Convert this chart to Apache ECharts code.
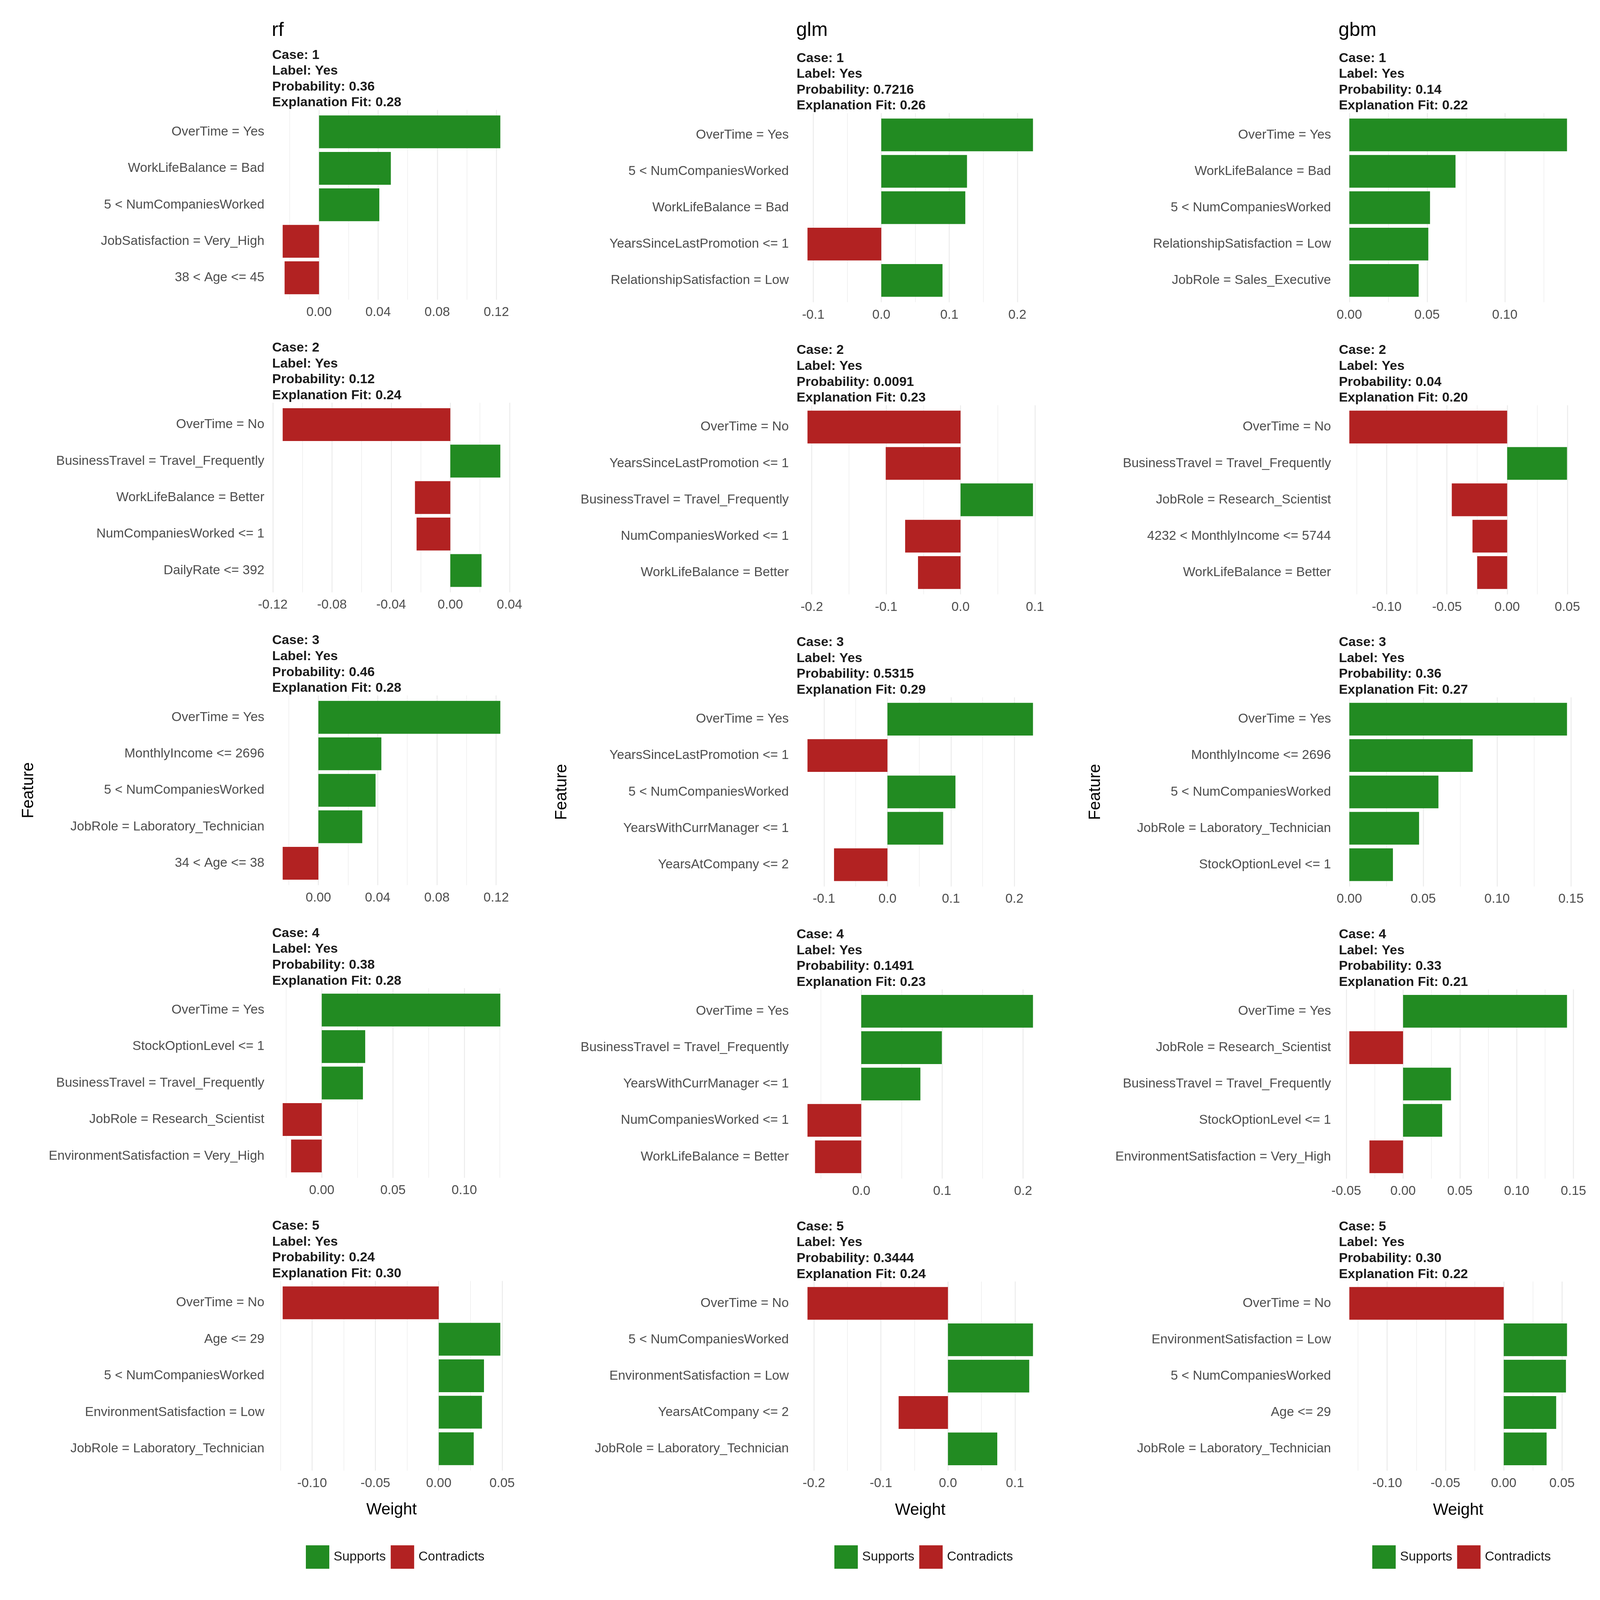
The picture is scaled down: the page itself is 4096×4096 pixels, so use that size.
<!DOCTYPE html>
<html>
<head>
<meta charset="utf-8">
<script src="https://cdn.jsdelivr.net/npm/echarts@6/dist/echarts.min.js"></script>
<style>html,body{margin:0;padding:0;background:#ffffff}#chart{width:4096px;height:4096px}</style>
</head>
<body>
<div id="chart"></div>
<script>
// ---------------- data ----------------
const models = ['rf', 'glm', 'gbm'];
const caseIds = ['1', '2', '3', '4', '5'];
const caseLabels = ['Yes', 'Yes', 'Yes', 'Yes', 'Yes'];

const rfProbability = ['0.36', '0.12', '0.46', '0.38', '0.24'];
const rfFit = ['0.28', '0.24', '0.28', '0.28', '0.30'];
const rfFeatures = [
  ['OverTime = Yes', 'WorkLifeBalance = Bad', '5 < NumCompaniesWorked', 'JobSatisfaction = Very_High', '38 < Age <= 45'],
  ['OverTime = No', 'BusinessTravel = Travel_Frequently', 'WorkLifeBalance = Better', 'NumCompaniesWorked <= 1', 'DailyRate <= 392'],
  ['OverTime = Yes', 'MonthlyIncome <= 2696', '5 < NumCompaniesWorked', 'JobRole = Laboratory_Technician', '34 < Age <= 38'],
  ['OverTime = Yes', 'StockOptionLevel <= 1', 'BusinessTravel = Travel_Frequently', 'JobRole = Research_Scientist', 'EnvironmentSatisfaction = Very_High'],
  ['OverTime = No', 'Age <= 29', '5 < NumCompaniesWorked', 'EnvironmentSatisfaction = Low', 'JobRole = Laboratory_Technician']
];
const rfWeights = [
  [0.1227, 0.0486, 0.0408, -0.0246, -0.0233],
  [-0.1133, 0.0338, -0.0239, -0.0228, 0.0211],
  [0.1228, 0.0425, 0.0386, 0.0296, -0.0241],
  [0.1253, 0.0305, 0.0289, -0.0274, -0.0215],
  [-0.1232, 0.0486, 0.0357, 0.0341, 0.0276]
];
const rfTickStep = [0.04, 0.04, 0.04, 0.05, 0.05];
const rfTickDecimals = 2;

const glmProbability = ['0.7216', '0.0091', '0.5315', '0.1491', '0.3444'];
const glmFit = ['0.26', '0.23', '0.29', '0.23', '0.24'];
const glmFeatures = [
  ['OverTime = Yes', '5 < NumCompaniesWorked', 'WorkLifeBalance = Bad', 'YearsSinceLastPromotion <= 1', 'RelationshipSatisfaction = Low'],
  ['OverTime = No', 'YearsSinceLastPromotion <= 1', 'BusinessTravel = Travel_Frequently', 'NumCompaniesWorked <= 1', 'WorkLifeBalance = Better'],
  ['OverTime = Yes', 'YearsSinceLastPromotion <= 1', '5 < NumCompaniesWorked', 'YearsWithCurrManager <= 1', 'YearsAtCompany <= 2'],
  ['OverTime = Yes', 'BusinessTravel = Travel_Frequently', 'YearsWithCurrManager <= 1', 'NumCompaniesWorked <= 1', 'WorkLifeBalance = Better'],
  ['OverTime = No', '5 < NumCompaniesWorked', 'EnvironmentSatisfaction = Low', 'YearsAtCompany <= 2', 'JobRole = Laboratory_Technician']
];
const glmWeights = [
  [0.2230, 0.1260, 0.1235, -0.1085, 0.0900],
  [-0.2058, -0.1006, 0.0974, -0.0745, -0.0572],
  [0.2292, -0.1259, 0.1071, 0.0878, -0.0841],
  [0.2122, 0.0996, 0.0731, -0.0664, -0.0571],
  [-0.2096, 0.1269, 0.1213, -0.0736, 0.0736]
];
const glmTickStep = [0.1, 0.1, 0.1, 0.1, 0.1];
const glmTickDecimals = 1;

const gbmProbability = ['0.14', '0.04', '0.36', '0.33', '0.30'];
const gbmFit = ['0.22', '0.20', '0.27', '0.21', '0.22'];
const gbmFeatures = [
  ['OverTime = Yes', 'WorkLifeBalance = Bad', '5 < NumCompaniesWorked', 'RelationshipSatisfaction = Low', 'JobRole = Sales_Executive'],
  ['OverTime = No', 'BusinessTravel = Travel_Frequently', 'JobRole = Research_Scientist', '4232 < MonthlyIncome <= 5744', 'WorkLifeBalance = Better'],
  ['OverTime = Yes', 'MonthlyIncome <= 2696', '5 < NumCompaniesWorked', 'JobRole = Laboratory_Technician', 'StockOptionLevel <= 1'],
  ['OverTime = Yes', 'JobRole = Research_Scientist', 'BusinessTravel = Travel_Frequently', 'StockOptionLevel <= 1', 'EnvironmentSatisfaction = Very_High'],
  ['OverTime = No', 'EnvironmentSatisfaction = Low', '5 < NumCompaniesWorked', 'Age <= 29', 'JobRole = Laboratory_Technician']
];
const gbmWeights = [
  [0.1400, 0.0683, 0.0519, 0.0508, 0.0446],
  [-0.1311, 0.0497, -0.0460, -0.0288, -0.0249],
  [0.1473, 0.0835, 0.0603, 0.0472, 0.0295],
  [0.1443, -0.0473, 0.0422, 0.0344, -0.0296],
  [-0.1325, 0.0543, 0.0534, 0.0450, 0.0368]
];
const gbmTickStep = [0.05, 0.05, 0.05, 0.05, 0.05];
const gbmTickDecimals = 2;

const legendNames = ['Supports', 'Contradicts'];

// ---------------- styles / layout ----------------
const FONT = '"Liberation Sans", Arial, Helvetica, sans-serif';
const GREEN = '#228B22';
const RED = '#B22222';
const GRID_COLOR = '#EBEBEB';

const columns = [
  { name: models[0], features: rfFeatures, weights: rfWeights, prob: rfProbability, fit: rfFit, step: rfTickStep, dec: rfTickDecimals,
    left: 695.8, width: 612.9, top1: 290.9, pitch: 749.4, catH: 466.9, featureX: 73.7, legendLeft: 783 },
  { name: models[1], features: glmFeatures, weights: glmWeights, prob: glmProbability, fit: glmFit, step: glmTickStep, dec: glmTickDecimals,
    left: 2038.3, width: 635.0, top1: 298.9, pitch: 747.8, catH: 465.6, featureX: 1439.0, legendLeft: 2136 },
  { name: models[2], features: gbmFeatures, weights: gbmWeights, prob: gbmProbability, fit: gbmFit, step: gbmTickStep, dec: gbmTickDecimals,
    left: 3426.4, width: 613.0, top1: 298.9, pitch: 747.8, catH: 465.6, featureX: 2804.4, legendLeft: 3513 }
];

const grids = [], xAxes = [], yAxes = [], series = [], graphics = [], legends = [];
let gi = 0;
columns.forEach(function (col) {
  graphics.push({
    type: 'text', x: col.left, y: 78,
    style: { text: col.name, fontSize: 50, fontFamily: FONT, fill: '#000000', align: 'left', verticalAlign: 'middle' },
    silent: true
  });
  for (let r = 0; r < 5; r++) {
    const top = col.top1 + r * col.pitch;
    const unit = col.catH / 5;
    const w = col.weights[r];
    const lo = Math.min(0, Math.min.apply(null, w));
    const hi = Math.max(0, Math.max.apply(null, w));
    const span = hi - lo;
    const xmin = lo - 0.05 * span, xmax = hi + 0.05 * span;
    const step = col.step[r];
    const dec = col.dec;

    // background panel grid (full ggplot panel height) carrying the grid lines
    grids.push({ left: col.left, top: top - 0.1 * unit, width: col.width, height: col.catH + 0.2 * unit, containLabel: false, outerBoundsMode: 'none' });
    xAxes.push({
      type: 'value', gridIndex: gi, min: xmin, max: xmax, minInterval: step, maxInterval: step, splitNumber: 4,
      axisLine: { show: false }, axisTick: { show: false }, axisLabel: { show: false },
      splitLine: { show: true, showMinLine: false, showMaxLine: false, lineStyle: { color: GRID_COLOR, width: 2.4 } },
      minorTick: { show: false, splitNumber: 2 },
      minorSplitLine: { show: true, lineStyle: { color: GRID_COLOR, width: 1.3 } }
    });
    yAxes.push({ type: 'value', gridIndex: gi, min: 0, max: 1, show: false });
    gi++;

    // bar panel
    grids.push({ left: col.left, top: top, width: col.width, height: col.catH, containLabel: false, outerBoundsMode: 'none' });
    xAxes.push({
      type: 'value', gridIndex: gi, min: xmin, max: xmax, minInterval: step, maxInterval: step, splitNumber: 4,
      axisLine: { show: false }, axisTick: { show: false },
      axisLabel: {
        show: true, margin: 25.5, fontSize: 33.4, fontFamily: FONT, color: '#4D4D4D',
        showMinLabel: false, showMaxLabel: false,
        formatter: function (v) { return (Math.abs(v) < 1e-9 ? 0 : v).toFixed(dec); }
      },
      splitLine: { show: false },
      name: r === 4 ? 'Weight' : '', nameLocation: 'middle', nameGap: 89.5,
      nameTextStyle: { fontSize: 41.7, fontFamily: FONT, color: '#000000' }
    });
    yAxes.push({
      type: 'category', gridIndex: gi, inverse: true, data: col.features[r], boundaryGap: true,
      axisLine: { show: false }, axisTick: { show: false }, splitLine: { show: false },
      axisLabel: { margin: 19, fontSize: 33.4, fontFamily: FONT, color: '#4D4D4D' }
    });
    series.push({
      type: 'bar', name: legendNames[0], xAxisIndex: gi, yAxisIndex: gi,
      data: w.map(function (v) { return v > 0 ? v : '-'; }),
      barCategoryGap: '10%', barGap: '-100%', itemStyle: { color: GREEN }, silent: true
    });
    series.push({
      type: 'bar', name: legendNames[1], xAxisIndex: gi, yAxisIndex: gi,
      data: w.map(function (v) { return v < 0 ? v : '-'; }),
      barCategoryGap: '10%', barGap: '-100%', itemStyle: { color: RED }, silent: true
    });
    gi++;

    graphics.push({
      type: 'text', x: col.left + 1, y: top - 170,
      style: {
        text: 'Case: ' + caseIds[r] + '\nLabel: ' + caseLabels[r] + '\nProbability: ' + col.prob[r] + '\nExplanation Fit: ' + col.fit[r],
        fontSize: 34, fontWeight: 'bold', fontFamily: FONT, fill: '#1A1A1A', lineHeight: 40.6,
        align: 'left', verticalAlign: 'top'
      },
      silent: true
    });
  }
  graphics.push({
    type: 'text', x: col.featureX, y: col.top1 + 2 * col.pitch + col.catH / 2, rotation: Math.PI / 2,
    style: { text: 'Feature', fontSize: 41.7, fontFamily: FONT, fill: '#000000', align: 'center', verticalAlign: 'middle' },
    silent: true
  });
  legends.push({
    data: legendNames, orient: 'horizontal', left: col.legendLeft, top: 3956,
    itemWidth: 60, itemHeight: 60, itemGap: 12.6, icon: 'rect', selectedMode: false,
    padding: 0,
    textStyle: { fontSize: 33.4, fontFamily: FONT, color: '#1A1A1A', padding: [0, 0, 0, 6] }
  });
});

const chart = echarts.init(document.getElementById('chart'), null, { renderer: 'canvas' });
chart.setOption({
  backgroundColor: '#ffffff',
  animation: false,
  grid: grids,
  xAxis: xAxes,
  yAxis: yAxes,
  series: series,
  legend: legends,
  graphic: graphics,
  tooltip: { show: false }
});
</script>
</body>
</html>
